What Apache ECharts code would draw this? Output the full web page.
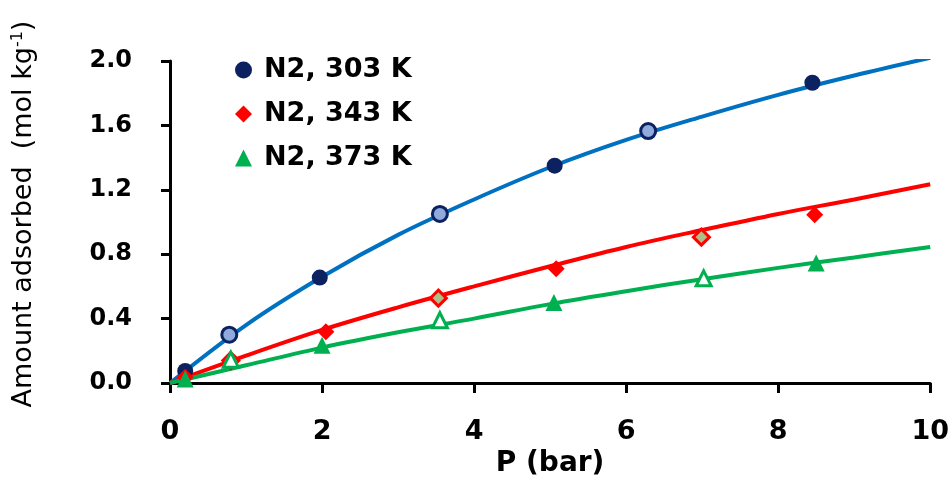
<!DOCTYPE html>
<html>
<head>
<meta charset="utf-8">
<script src="https://cdn.jsdelivr.net/npm/echarts@6/dist/echarts.min.js"></script>
<style>
  html, body { margin: 0; padding: 0; background: #ffffff; }
  #chart { width: 952px; height: 483px; }
</style>
</head>
<body>
<div id="chart"></div>
<script>
// Pressure grid (bar) for the fitted isotherm curves
const pressureGrid = [0, 1, 2, 3, 4, 5, 6, 7, 8, 9, 10];
const fit303 = [0, 0.36, 0.66, 0.92, 1.14, 1.34, 1.51, 1.655, 1.79, 1.91, 2.02];
const fit343 = [0, 0.17, 0.33, 0.47, 0.60, 0.725, 0.845, 0.95, 1.05, 1.14, 1.235];
const fit373 = [0, 0.11, 0.22, 0.315, 0.40, 0.49, 0.57, 0.645, 0.715, 0.78, 0.845];

// Measured points, solid markers
const p303Solid = [0.2, 1.97, 5.06, 8.45];
const q303Solid = [0.075, 0.655, 1.35, 1.865];
const p343Solid = [0.2, 2.05, 5.08, 8.48];
const q343Solid = [0.035, 0.318, 0.71, 1.045];
const p373Solid = [0.2, 2.0, 5.05, 8.5];
const q373Solid = [0.025, 0.235, 0.50, 0.745];

// Measured points, open markers
const p303Open = [0.78, 3.55, 6.29];
const q303Open = [0.30, 1.05, 1.565];
const p343Open = [0.8, 3.53, 6.99];
const q343Open = [0.14, 0.527, 0.906];
const p373Open = [0.8, 3.55, 7.02];
const q373Open = [0.145, 0.39, 0.65];

// Axis ticks
const xTicks = { min: 0, max: 10, step: 2 };
const yTicks = { min: 0, max: 2.0, step: 0.4 };

const seriesNames = ['N2, 303 K', 'N2, 343 K', 'N2, 373 K'];

function pairs(xs, ys) { return xs.map((x, i) => [x, ys[i]]); }

const FONT = 'DejaVu Sans';
const C_BLUE_LINE = '#0070C0', C_NAVY = '#0C2160', C_BLUE_OPEN = '#8FAADC';
const C_RED = '#FF0000', C_RED_OPEN = '#A9C08A';
const C_GREEN = '#00B050';

function fitLine(name, ys, color) {
  return {
    name: name, type: 'line', data: pairs(pressureGrid, ys),
    smooth: 0.35, showSymbol: false, symbol: 'none', z: 2,
    lineStyle: { color: color, width: 4 }, silent: true
  };
}
function marks(name, xs, ys, symbol, size, fill, border, bw, z) {
  return {
    name: name, type: 'scatter', data: pairs(xs, ys), symbol: symbol, symbolSize: size, z: z,
    itemStyle: { color: fill, borderColor: border, borderWidth: bw, opacity: 1 }
  };
}

const chart = echarts.init(document.getElementById('chart'), null, { renderer: 'canvas' });
chart.setOption({
  animation: false,
  backgroundColor: '#ffffff',
  grid: { left: 170, right: 21, top: 61, bottom: 93, containLabel: false },
  legend: {
    orient: 'vertical', left: 230, top: 50, itemGap: 14,
    itemWidth: 17, itemHeight: 17,
    textStyle: { fontFamily: FONT, fontWeight: 'bold', fontSize: 27, color: '#000', lineHeight: 30, padding: [0, 0, 0, 7] },
    data: [
      { name: seriesNames[0], icon: 'circle', itemStyle: { color: C_NAVY, borderWidth: 0 } },
      { name: seriesNames[1], icon: 'diamond', itemStyle: { color: C_RED, borderWidth: 0 } },
      { name: seriesNames[2], icon: 'triangle', itemStyle: { color: C_GREEN, borderWidth: 0 } }
    ]
  },
  xAxis: {
    type: 'value', min: xTicks.min, max: xTicks.max, interval: xTicks.step,
    name: 'P (bar)', nameLocation: 'middle', nameGap: 67,
    nameTextStyle: { fontFamily: FONT, fontWeight: 'bold', fontSize: 28, color: '#000' },
    axisLine: { show: true, onZero: false, lineStyle: { color: '#000', width: 3 } },
    axisTick: { show: true, inside: false, length: 10, lineStyle: { color: '#000', width: 3 } },
    axisLabel: { fontFamily: FONT, fontWeight: 'bold', fontSize: 27, color: '#000', margin: 35 },
    splitLine: { show: false }
  },
  yAxis: {
    type: 'value', min: yTicks.min, max: yTicks.max, interval: yTicks.step,
    name: 'Amount adsorbed  (mol kg{sup|-1})', nameLocation: 'middle', nameGap: 133, nameRotate: 90,
    nameTextStyle: {
      fontFamily: FONT, fontWeight: 'normal', fontSize: 27, color: '#000', padding: [0, 0, 0, 16],
      rich: { sup: { fontFamily: FONT, fontWeight: 'normal', fontSize: 16, color: '#000', lineHeight: 14, verticalAlign: 'top' } }
    },
    axisLine: { show: true, onZero: false, lineStyle: { color: '#000', width: 3 } },
    axisTick: { show: true, inside: false, length: 9, lineStyle: { color: '#000', width: 3 } },
    axisLabel: {
      fontFamily: FONT, fontWeight: 'bold', fontSize: 24, color: '#000', margin: 38,
      formatter: v => v.toFixed(1)
    },
    splitLine: { show: false }
  },
  series: [
    fitLine('fit 303 K', fit303, C_BLUE_LINE),
    fitLine('fit 343 K', fit343, C_RED),
    fitLine('fit 373 K', fit373, C_GREEN),
    marks(seriesNames[0], p303Solid, q303Solid, 'circle', 16, C_NAVY, C_NAVY, 0, 5),
    marks('N2, 303 K open', p303Open, q303Open, 'circle', 15, C_BLUE_OPEN, C_NAVY, 3, 5),
    marks(seriesNames[1], p343Solid, q343Solid, 'diamond', 17, C_RED, C_RED, 0, 6),
    marks('N2, 343 K open', p343Open, q343Open, 'diamond', 16, C_RED_OPEN, C_RED, 3, 6),
    marks(seriesNames[2], p373Solid, q373Solid, 'triangle', 17, C_GREEN, C_GREEN, 0, 7),
    marks('N2, 373 K open', p373Open, q373Open, 'triangle', 15, '#ffffff', C_GREEN, 3, 7)
  ]
});
</script>
</body>
</html>
